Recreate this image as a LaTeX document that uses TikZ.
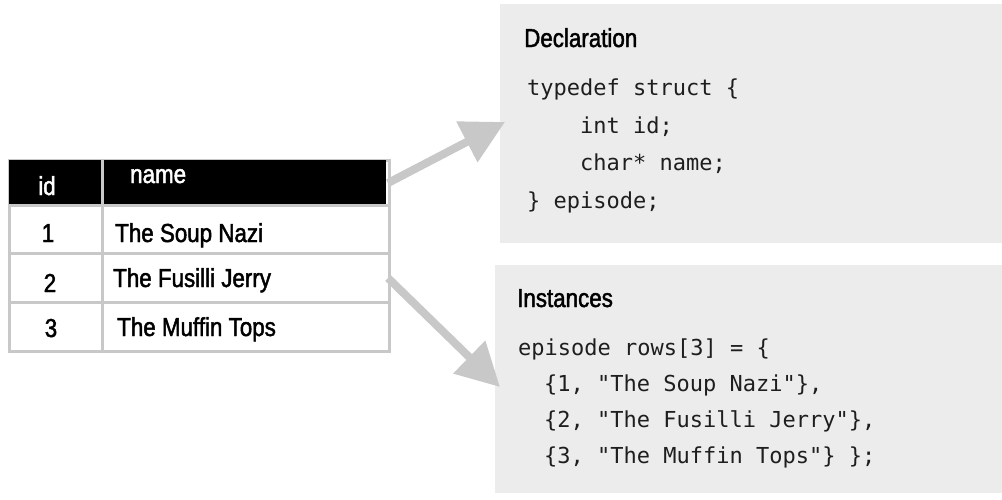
\documentclass[tikz,border=0pt]{standalone}
\usepackage{fontspec}
\setmainfont{Liberation Sans}
\setmonofont{DejaVu Sans Mono}
\newfontfamily\condsans{Liberation Sans}[FakeStretch=0.86, FakeBold=1.8]
\usetikzlibrary{arrows.meta}

\definecolor{panelfill}{HTML}{ECECEC}
\definecolor{gridline}{HTML}{C8C8C8}
\definecolor{arrowgray}{HTML}{C8C8C8}
\definecolor{codeink}{HTML}{1E1E1E}

\tikzset{
  panel/.style={fill=panelfill, draw=none, inner sep=0pt, anchor=north west},
  heading/.style={anchor=base west, inner sep=0pt, text=black,
    font=\condsans\fontsize{26}{30}\selectfont},
  codeline/.style={anchor=base west, inner sep=0pt, text=codeink,
    font=\ttfamily\fontsize{22}{26}\selectfont},
  cell/.style={inner sep=0pt, text=black,
    font=\condsans\fontsize{26}{30}\selectfont},
  headcell/.style={cell, text=white},
  bigarrow/.style={draw=arrowgray, line width=8pt,
    -{Triangle[length=43pt,width=44pt]}},
}

\begin{document}
\begin{tikzpicture}[x=1pt, y=-1pt]
\useasboundingbox (0,0) rectangle (1002,499);

% code panels
\node[panel, minimum width=502, minimum height=239] (decl) at (500,4) {};
\node[panel, minimum width=507, minimum height=228] (inst) at (495,265) {};

% declaration
\node[heading] (declhead) at (524,47) {Declaration};
\node[codeline] (d1) at (527,95)  {typedef struct \{};
\node[codeline] (d2) at (580,133) {int id;};
\node[codeline] (d3) at (580,170) {char* name;};
\node[codeline] (d4) at (527,208) {\} episode;};

% instances
\node[heading] (insthead) at (517,307) {Instances};
\node[codeline] (i1) at (518,355) {episode rows[3] = \{};
\node[codeline] (i2) at (544,391) {\{1, "The Soup Nazi"\},};
\node[codeline] (i3) at (544,427) {\{2, "The Fusilli Jerry"\},};
\node[codeline] (i4) at (544,463) {\{3, "The Muffin Tops"\} \};};

% table
\node[fill=white, draw=gridline, line width=3pt, inner sep=0pt,
      minimum width=380, minimum height=191, anchor=north west]
      (tbl) at (7.5,158.5) {};
\fill[black] (9,160) rectangle (386,204);
\draw[gridline, line width=3pt]
  (tbl.north west) ++(94.5,0) coordinate (colsplit) -- (colsplit |- tbl.south)
  (tbl.north west) ++(0,46.5) coordinate (r1) -- (r1 -| tbl.east)
  (tbl.north west) ++(0,95)   coordinate (r2) -- (r2 -| tbl.east)
  (tbl.north west) ++(0,144)  coordinate (r3) -- (r3 -| tbl.east);

\node[headcell, anchor=base] (hid) at (47,195) {id};
\node[headcell, anchor=base west] (hname) at (130,183) {name};
\node[cell, anchor=base] (c1) at (48,242) {1};
\node[cell, anchor=base west] (n1) at (115,242) {The Soup Nazi};
\node[cell, anchor=base] (c2) at (50,292) {2};
\node[cell, anchor=base west] (n2) at (113,287) {The Fusilli Jerry};
\node[cell, anchor=base] (c3) at (51,337) {3};
\node[cell, anchor=base west] (n3) at (117,336) {The Muffin Tops};

% connectors
\coordinate (from1) at (388,183);
\coordinate (to1) at (505,122);
\coordinate (from2) at (388,278);
\coordinate (to2) at (500,387);
\draw[bigarrow] (from1) -- (to1);
\draw[bigarrow] (from2) -- (to2);
\end{tikzpicture}
\end{document}
